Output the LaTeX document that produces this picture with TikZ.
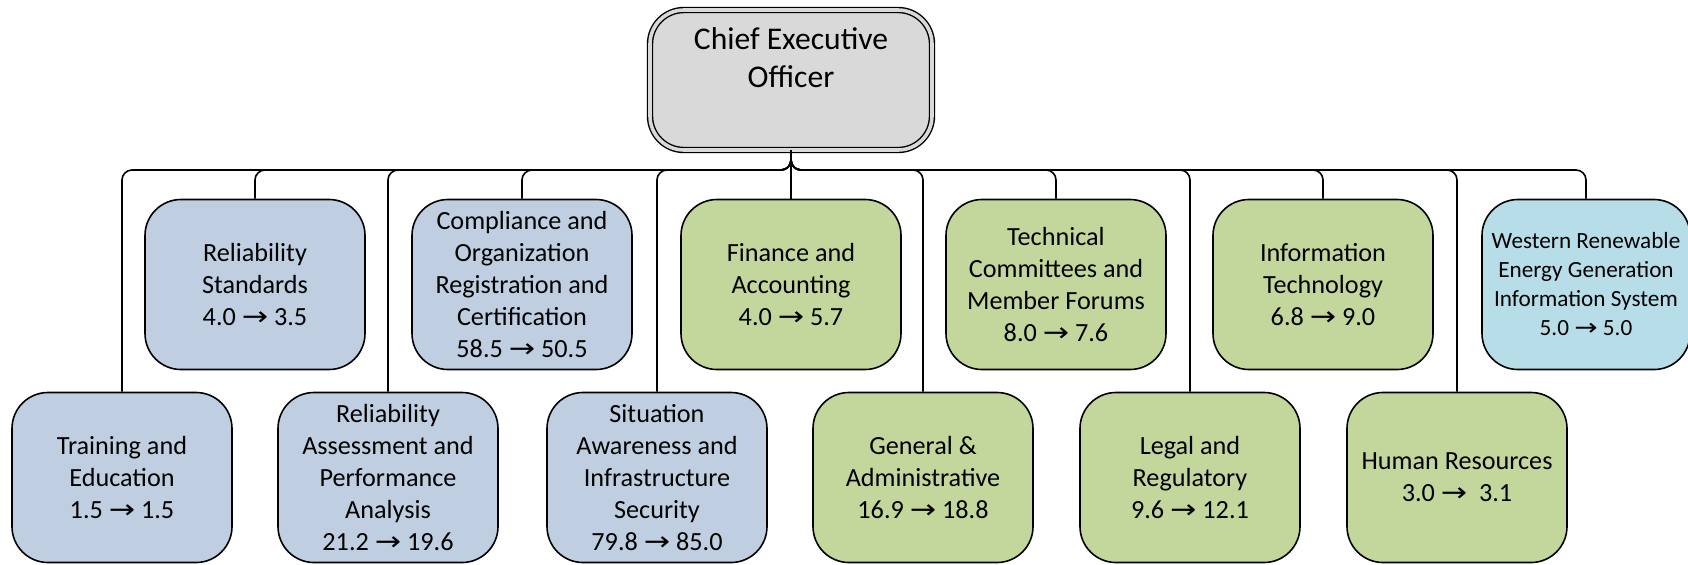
\documentclass[tikz,border=0pt]{standalone}
\usepackage{fontspec}
\usepackage{graphicx}
\setmainfont{Carlito}
\newfontfamily\arrowfont{DejaVu Sans}
\usetikzlibrary{positioning}
\definecolor{ceogray}{RGB}{217,217,217}
\definecolor{unitblue}{RGB}{191,207,225}
\definecolor{unitgreen}{RGB}{195,214,155}
\definecolor{unitaqua}{RGB}{183,222,232}
\newcommand{\chgto}{{\arrowfont\scalebox{1.2}[1]{→}}}

\begin{document}
\begin{tikzpicture}[x=0.5pt,y=0.5pt,yscale=-1,xscale=1,
  unit/.style={draw, line width=0.8pt, rounded corners=18pt, minimum width=110pt, minimum height=85pt, inner sep=1pt, align=center, font=\fontsize{13.1}{16}\selectfont},
  conn/.style={line width=0.8pt, rounded corners=5pt}]
\path[use as bounding box] (0,0) rectangle (1688,564);

%Shape: CEO box
\node[draw, line width=0.7pt, double=ceogray, double distance=1.8pt, fill=ceogray, rounded corners=17pt, minimum width=141pt, minimum height=70pt] (ceo) at (791,80) {};
\node[font=\fontsize{15.8}{19}\selectfont, align=center, inner sep=0pt, below=9pt of ceo.north] (ceolabel) {Chief Executive\\Officer};
\coordinate (bus) at (791,170);

%Top row units
\node[unit, fill=unitblue] (relstd) at (255,284.5) {Reliability\\Standards\\4.0 \chgto{} 3.5};
\node[unit, fill=unitblue] (comp) at (522,284.5) {Compliance and\\Organization\\Registration and\\Certification\\58.5 \chgto{} 50.5};
\node[unit, fill=unitgreen] (fin) at (791,284.5) {Finance and\\Accounting\\4.0 \chgto{} 5.7};
\node[unit, fill=unitgreen] (tech) at (1056,284.5) {Technical\\Committees and\\Member Forums\\8.0 \chgto{} 7.6};
\node[unit, fill=unitgreen] (it) at (1323,284.5) {Information\\Technology\\6.8 \chgto{} 9.0};
\node[unit, fill=unitaqua, minimum width=104pt, font=\fontsize{11.6}{14.5}\selectfont] (wregis) at (1586,284.5) {Western Renewable\\Energy Generation\\Information System\\5.0 \chgto{} 5.0};

%Bottom row units
\node[unit, fill=unitblue] (train) at (122,477.5) {Training and\\Education\\1.5 \chgto{} 1.5};
\node[unit, fill=unitblue] (relassess) at (388,477.5) {Reliability\\Assessment and\\Performance\\Analysis\\21.2 \chgto{} 19.6};
\node[unit, fill=unitblue] (sitaware) at (657,477.5) {Situation\\Awareness and\\Infrastructure\\Security\\79.8 \chgto{} 85.0};
\node[unit, fill=unitgreen] (genadmin) at (923,477.5) {General \&\\Administrative\\16.9 \chgto{} 18.8};
\node[unit, fill=unitgreen] (legal) at (1190,477.5) {Legal and\\Regulatory\\9.6 \chgto{} 12.1};
\node[unit, fill=unitgreen] (hr) at (1457,477.5) {Human Resources\\3.0 \chgto{}\ \ 3.1};

%Connectors
\foreach \u in {train,relstd,relassess,comp,sitaware,fin,genadmin,tech,legal,it,hr,wregis}
  \draw[conn] (ceo.south) -- (bus) -| (\u.north);
\end{tikzpicture}
\end{document}
